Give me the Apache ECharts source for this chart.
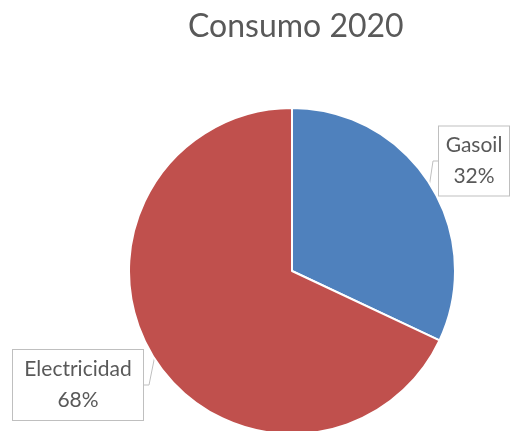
<!DOCTYPE html>
<html>
<head>
<meta charset="utf-8">
<script src="https://cdn.jsdelivr.net/npm/echarts@6/dist/echarts.min.js"></script>
<style>
  html, body { margin: 0; padding: 0; background: #fff; }
  #chart { width: 510px; height: 431px; }
</style>
</head>
<body>
<div id="chart"></div>
<script>
// datos del gráfico
var categorias = ['Gasoil', 'Electricidad']
var valores = [32, 68]
var colores = ['#4F81BD', '#C0504D']

// cajas de llamada: centro y tamaño del contenido
var posEtiquetas = [
  { x: 474, y: 161, w: 54, h: 61 },
  { x: 78, y: 385, w: 114, h: 62 }
]

var chart = echarts.init(document.getElementById('chart'))

chart.setOption({
  animation: false,
  title: {
    text: 'Consumo 2020',
    left: 183,
    top: 6,
    textStyle: {
      fontFamily: 'Lato',
      fontSize: 32,
      fontWeight: 'normal',
      color: '#595959'
    }
  },
  series: [
    {
      type: 'pie',
      center: [292, 271],
      radius: 163,
      startAngle: 90,
      clockwise: true,
      data: categorias.map(function (c, i) {
        return {
          name: c,
          value: valores[i],
          itemStyle: { color: colores[i] },
          label: { width: posEtiquetas[i].w, height: posEtiquetas[i].h }
        }
      }),
      itemStyle: {
        borderColor: '#fff',
        borderWidth: 2
      },
      label: {
        show: true,
        formatter: '{b}\n{d}%',
        fontFamily: 'Lato',
        fontSize: 21,
        lineHeight: 31,
        color: '#595959',
        backgroundColor: '#fff',
        borderColor: '#BFBFBF',
        borderWidth: 1,
        padding: [4, 8],
        align: 'center',
        verticalAlign: 'middle',
        overflow: 'none'
      },
      labelLine: {
        show: true,
        length: 5,
        length2: 5,
        lineStyle: { color: '#BFBFBF', width: 1 }
      },
      labelLayout: function (params) {
        var p = posEtiquetas[params.dataIndex]
        return {
          x: p.x,
          y: p.y,
          align: 'center',
          verticalAlign: 'middle'
        }
      }
    }
  ]
})
</script>
</body>
</html>
